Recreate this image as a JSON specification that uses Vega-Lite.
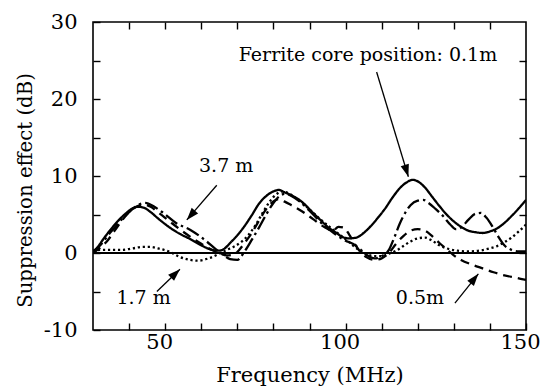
{
  "$schema": "https://vega.github.io/schema/vega-lite/v6.json",
  "width": 433,
  "height": 308,
  "autosize": {"type": "none"},
  "padding": {"left": 93, "top": 22, "right": 14, "bottom": 60},
  "background": "white",
  "config": {
    "view": {"stroke": "black", "strokeWidth": 1.6},
    "font": "DejaVu Serif",
    "text": {"font": "DejaVu Serif"},
    "axis": {
      "grid": false,
      "domain": false,
      "tickColor": "black",
      "tickWidth": 1.4,
      "tickSize": -7,
      "labelFont": "DejaVu Serif",
      "labelFontSize": 21,
      "labelColor": "black",
      "titleFont": "DejaVu Serif",
      "titleFontSize": 21,
      "titleFontWeight": "normal",
      "titleColor": "black"
    }
  },
  "datasets": {
    "curves": [
      {"series": "0.1m", "f": 30, "db": 0.2}, {"series": "0.1m", "f": 31, "db": 0.6}, {"series": "0.1m", "f": 33, "db": 1.9}, {"series": "0.1m", "f": 35, "db": 3.1}, {"series": "0.1m", "f": 37, "db": 4.2}, {"series": "0.1m", "f": 39, "db": 5.1}, {"series": "0.1m", "f": 41, "db": 5.8}, {"series": "0.1m", "f": 42.5, "db": 6.0}, {"series": "0.1m", "f": 44, "db": 5.9}, {"series": "0.1m", "f": 46, "db": 5.3}, {"series": "0.1m", "f": 48, "db": 4.5}, {"series": "0.1m", "f": 51, "db": 3.4}, {"series": "0.1m", "f": 54, "db": 2.5}, {"series": "0.1m", "f": 57, "db": 1.8}, {"series": "0.1m", "f": 60, "db": 1.0}, {"series": "0.1m", "f": 63, "db": 0.4}, {"series": "0.1m", "f": 65, "db": 0.3}, {"series": "0.1m", "f": 66.5, "db": 0.6}, {"series": "0.1m", "f": 68, "db": 1.3}, {"series": "0.1m", "f": 70, "db": 2.3}, {"series": "0.1m", "f": 72, "db": 3.5}, {"series": "0.1m", "f": 74, "db": 4.9}, {"series": "0.1m", "f": 76, "db": 6.4}, {"series": "0.1m", "f": 78, "db": 7.4}, {"series": "0.1m", "f": 80, "db": 8.0}, {"series": "0.1m", "f": 81.5, "db": 8.2}, {"series": "0.1m", "f": 83, "db": 7.9}, {"series": "0.1m", "f": 85, "db": 7.5}, {"series": "0.1m", "f": 88, "db": 6.6}, {"series": "0.1m", "f": 91, "db": 5.2}, {"series": "0.1m", "f": 93, "db": 4.3}, {"series": "0.1m", "f": 95, "db": 3.4}, {"series": "0.1m", "f": 97.5, "db": 2.6}, {"series": "0.1m", "f": 99, "db": 2.1}, {"series": "0.1m", "f": 101, "db": 1.9}, {"series": "0.1m", "f": 103, "db": 2.0}, {"series": "0.1m", "f": 105, "db": 2.6}, {"series": "0.1m", "f": 107, "db": 3.5}, {"series": "0.1m", "f": 109, "db": 4.6}, {"series": "0.1m", "f": 111, "db": 5.8}, {"series": "0.1m", "f": 113, "db": 7.2}, {"series": "0.1m", "f": 115, "db": 8.4}, {"series": "0.1m", "f": 117, "db": 9.2}, {"series": "0.1m", "f": 118.5, "db": 9.5}, {"series": "0.1m", "f": 120, "db": 9.3}, {"series": "0.1m", "f": 122, "db": 8.5}, {"series": "0.1m", "f": 124, "db": 7.3}, {"series": "0.1m", "f": 126, "db": 6.1}, {"series": "0.1m", "f": 128, "db": 5.0}, {"series": "0.1m", "f": 130, "db": 4.1}, {"series": "0.1m", "f": 132, "db": 3.4}, {"series": "0.1m", "f": 134, "db": 2.9}, {"series": "0.1m", "f": 136, "db": 2.7}, {"series": "0.1m", "f": 138, "db": 2.6}, {"series": "0.1m", "f": 140, "db": 2.8}, {"series": "0.1m", "f": 142, "db": 3.2}, {"series": "0.1m", "f": 144, "db": 3.9}, {"series": "0.1m", "f": 146, "db": 4.8}, {"series": "0.1m", "f": 148, "db": 5.8}, {"series": "0.1m", "f": 150, "db": 6.9},

      {"series": "0.5m", "f": 30, "db": 0.0}, {"series": "0.5m", "f": 32, "db": 0.7}, {"series": "0.5m", "f": 34, "db": 1.6}, {"series": "0.5m", "f": 36, "db": 2.9}, {"series": "0.5m", "f": 38, "db": 4.2}, {"series": "0.5m", "f": 40, "db": 5.3}, {"series": "0.5m", "f": 42, "db": 6.0}, {"series": "0.5m", "f": 44, "db": 6.3}, {"series": "0.5m", "f": 46, "db": 6.0}, {"series": "0.5m", "f": 48, "db": 5.3}, {"series": "0.5m", "f": 51, "db": 4.2}, {"series": "0.5m", "f": 54, "db": 3.1}, {"series": "0.5m", "f": 57, "db": 2.1}, {"series": "0.5m", "f": 60, "db": 1.2}, {"series": "0.5m", "f": 63, "db": 0.4}, {"series": "0.5m", "f": 65, "db": 0.0}, {"series": "0.5m", "f": 67, "db": -0.3}, {"series": "0.5m", "f": 69, "db": -0.2}, {"series": "0.5m", "f": 70.5, "db": 0.4}, {"series": "0.5m", "f": 72, "db": 1.3}, {"series": "0.5m", "f": 74, "db": 2.6}, {"series": "0.5m", "f": 76, "db": 4.2}, {"series": "0.5m", "f": 78, "db": 5.7}, {"series": "0.5m", "f": 80, "db": 6.7}, {"series": "0.5m", "f": 81.5, "db": 7.0}, {"series": "0.5m", "f": 83, "db": 6.7}, {"series": "0.5m", "f": 85, "db": 6.2}, {"series": "0.5m", "f": 88, "db": 5.4}, {"series": "0.5m", "f": 91, "db": 4.4}, {"series": "0.5m", "f": 94, "db": 3.4}, {"series": "0.5m", "f": 96.5, "db": 2.9}, {"series": "0.5m", "f": 98, "db": 3.4}, {"series": "0.5m", "f": 99.5, "db": 3.3}, {"series": "0.5m", "f": 101, "db": 2.4}, {"series": "0.5m", "f": 102.5, "db": 1.2}, {"series": "0.5m", "f": 104, "db": 0.2}, {"series": "0.5m", "f": 106, "db": -0.6}, {"series": "0.5m", "f": 108, "db": -0.9}, {"series": "0.5m", "f": 110, "db": -0.7}, {"series": "0.5m", "f": 112, "db": 0.0}, {"series": "0.5m", "f": 114, "db": 1.2}, {"series": "0.5m", "f": 116, "db": 2.2}, {"series": "0.5m", "f": 118, "db": 2.9}, {"series": "0.5m", "f": 120, "db": 3.1}, {"series": "0.5m", "f": 122, "db": 2.9}, {"series": "0.5m", "f": 124, "db": 2.2}, {"series": "0.5m", "f": 126, "db": 1.3}, {"series": "0.5m", "f": 128, "db": 0.5}, {"series": "0.5m", "f": 130, "db": -0.3}, {"series": "0.5m", "f": 132, "db": -0.9}, {"series": "0.5m", "f": 135, "db": -1.5}, {"series": "0.5m", "f": 138, "db": -2.0}, {"series": "0.5m", "f": 141, "db": -2.5}, {"series": "0.5m", "f": 144, "db": -2.9}, {"series": "0.5m", "f": 147, "db": -3.2}, {"series": "0.5m", "f": 150, "db": -3.5},

      {"series": "1.7m", "f": 30, "db": 0.3}, {"series": "1.7m", "f": 32, "db": 0.4}, {"series": "1.7m", "f": 35, "db": 0.4}, {"series": "1.7m", "f": 38, "db": 0.4}, {"series": "1.7m", "f": 41, "db": 0.6}, {"series": "1.7m", "f": 44, "db": 0.8}, {"series": "1.7m", "f": 46, "db": 0.8}, {"series": "1.7m", "f": 48, "db": 0.6}, {"series": "1.7m", "f": 51, "db": 0.2}, {"series": "1.7m", "f": 54, "db": -0.5}, {"series": "1.7m", "f": 57, "db": -0.9}, {"series": "1.7m", "f": 59, "db": -1.0}, {"series": "1.7m", "f": 62, "db": -0.7}, {"series": "1.7m", "f": 65, "db": -0.1}, {"series": "1.7m", "f": 67, "db": 0.4}, {"series": "1.7m", "f": 69, "db": 0.8}, {"series": "1.7m", "f": 71, "db": 1.4}, {"series": "1.7m", "f": 73, "db": 2.3}, {"series": "1.7m", "f": 75, "db": 3.6}, {"series": "1.7m", "f": 77, "db": 5.2}, {"series": "1.7m", "f": 79, "db": 6.7}, {"series": "1.7m", "f": 81, "db": 7.7}, {"series": "1.7m", "f": 82.5, "db": 8.0}, {"series": "1.7m", "f": 84, "db": 7.8}, {"series": "1.7m", "f": 86, "db": 7.2}, {"series": "1.7m", "f": 89, "db": 6.1}, {"series": "1.7m", "f": 92, "db": 4.8}, {"series": "1.7m", "f": 95, "db": 3.6}, {"series": "1.7m", "f": 98, "db": 2.5}, {"series": "1.7m", "f": 100, "db": 1.8}, {"series": "1.7m", "f": 102, "db": 1.0}, {"series": "1.7m", "f": 104, "db": 0.3}, {"series": "1.7m", "f": 106, "db": -0.2}, {"series": "1.7m", "f": 108, "db": -0.4}, {"series": "1.7m", "f": 110, "db": -0.4}, {"series": "1.7m", "f": 112, "db": -0.1}, {"series": "1.7m", "f": 114, "db": 0.3}, {"series": "1.7m", "f": 116, "db": 0.9}, {"series": "1.7m", "f": 118, "db": 1.5}, {"series": "1.7m", "f": 120, "db": 1.9}, {"series": "1.7m", "f": 122, "db": 2.0}, {"series": "1.7m", "f": 124, "db": 1.6}, {"series": "1.7m", "f": 126, "db": 1.0}, {"series": "1.7m", "f": 128, "db": 0.6}, {"series": "1.7m", "f": 131, "db": 0.3}, {"series": "1.7m", "f": 134, "db": 0.2}, {"series": "1.7m", "f": 137, "db": 0.3}, {"series": "1.7m", "f": 140, "db": 0.6}, {"series": "1.7m", "f": 142, "db": 0.9}, {"series": "1.7m", "f": 144, "db": 1.4}, {"series": "1.7m", "f": 146, "db": 2.0}, {"series": "1.7m", "f": 148, "db": 2.8}, {"series": "1.7m", "f": 150, "db": 3.7},

      {"series": "3.7m", "f": 30, "db": 0.0}, {"series": "3.7m", "f": 32, "db": 1.0}, {"series": "3.7m", "f": 34, "db": 2.2}, {"series": "3.7m", "f": 36, "db": 3.3}, {"series": "3.7m", "f": 38, "db": 4.4}, {"series": "3.7m", "f": 40, "db": 5.3}, {"series": "3.7m", "f": 42, "db": 6.1}, {"series": "3.7m", "f": 44.5, "db": 6.5}, {"series": "3.7m", "f": 47, "db": 6.0}, {"series": "3.7m", "f": 49.5, "db": 5.2}, {"series": "3.7m", "f": 53, "db": 3.9}, {"series": "3.7m", "f": 57, "db": 3.0}, {"series": "3.7m", "f": 61.5, "db": 1.5}, {"series": "3.7m", "f": 64, "db": 0.5}, {"series": "3.7m", "f": 66, "db": -0.2}, {"series": "3.7m", "f": 68, "db": -0.8}, {"series": "3.7m", "f": 70, "db": -0.9}, {"series": "3.7m", "f": 72, "db": 0.2}, {"series": "3.7m", "f": 74, "db": 1.7}, {"series": "3.7m", "f": 76, "db": 3.3}, {"series": "3.7m", "f": 78, "db": 5.0}, {"series": "3.7m", "f": 80, "db": 6.5}, {"series": "3.7m", "f": 82, "db": 7.5}, {"series": "3.7m", "f": 83.5, "db": 7.7}, {"series": "3.7m", "f": 85, "db": 7.4}, {"series": "3.7m", "f": 88, "db": 6.4}, {"series": "3.7m", "f": 91, "db": 5.0}, {"series": "3.7m", "f": 94, "db": 3.6}, {"series": "3.7m", "f": 97, "db": 2.5}, {"series": "3.7m", "f": 100, "db": 1.6}, {"series": "3.7m", "f": 102, "db": 1.2}, {"series": "3.7m", "f": 104, "db": 0.5}, {"series": "3.7m", "f": 106, "db": -0.3}, {"series": "3.7m", "f": 108, "db": -0.7}, {"series": "3.7m", "f": 110, "db": -0.4}, {"series": "3.7m", "f": 112, "db": 0.4}, {"series": "3.7m", "f": 113.5, "db": 2.0}, {"series": "3.7m", "f": 115, "db": 3.8}, {"series": "3.7m", "f": 116.5, "db": 5.2}, {"series": "3.7m", "f": 118, "db": 6.2}, {"series": "3.7m", "f": 120, "db": 6.8}, {"series": "3.7m", "f": 121.5, "db": 6.9}, {"series": "3.7m", "f": 123, "db": 6.5}, {"series": "3.7m", "f": 125, "db": 5.7}, {"series": "3.7m", "f": 127, "db": 4.8}, {"series": "3.7m", "f": 129, "db": 3.7}, {"series": "3.7m", "f": 130.5, "db": 3.1}, {"series": "3.7m", "f": 132, "db": 3.3}, {"series": "3.7m", "f": 134, "db": 4.3}, {"series": "3.7m", "f": 136, "db": 5.1}, {"series": "3.7m", "f": 137.5, "db": 5.2}, {"series": "3.7m", "f": 139, "db": 4.6}, {"series": "3.7m", "f": 141, "db": 3.2}, {"series": "3.7m", "f": 142.5, "db": 2.0}, {"series": "3.7m", "f": 144, "db": 1.0}, {"series": "3.7m", "f": 146, "db": 0.4}, {"series": "3.7m", "f": 148, "db": 0.2}, {"series": "3.7m", "f": 150, "db": 0.2}
    ],
    "arrows": [
      {"x1": 108.6, "y1": 23.5, "x2": 117.4, "y2": 9.9, "angle": 163},
      {"x1": 64.3, "y1": 8.8, "x2": 56.0, "y2": 4.3, "angle": 221},
      {"x1": 47.7, "y1": -5.0, "x2": 54.1, "y2": -2.1, "angle": 46},
      {"x1": 130.3, "y1": -6.5, "x2": 136.8, "y2": -2.7, "angle": 39}
    ],
    "labels": [
      {"text": "Ferrite core position: 0.1m", "f": 106.2, "db": 25.7},
      {"text": "3.7 m", "f": 66.9, "db": 11.3},
      {"text": "1.7 m", "f": 44.0, "db": -5.9},
      {"text": "0.5m", "f": 120.6, "db": -5.9}
    ]
  },
  "layer": [
    {
      "data": {"name": "curves"},
      "mark": {"type": "line", "color": "black", "strokeWidth": 2.3, "interpolate": "monotone", "clip": true},
      "encoding": {
        "x": {
          "field": "f", "type": "quantitative",
          "scale": {"domain": [30, 150], "nice": false, "zero": false},
          "axis": {
            "orient": "bottom",
            "values": [40, 50, 60, 70, 80, 90, 100, 110, 120, 130, 140, 150],
            "labelExpr": "datum.value % 50 === 0 ? '' + datum.value : ''",
            "labelPadding": 8,
            "labelOffset": -6,
            "labelFlush": false,
            "title": "Frequency (MHz)",
            "titleY": 51,
            "titleBaseline": "alphabetic"
          }
        },
        "y": {
          "field": "db", "type": "quantitative",
          "scale": {"domain": [-10, 30], "nice": false, "zero": false},
          "axis": {
            "orient": "left",
            "values": [-10, -5, 0, 5, 10, 15, 20, 25, 30],
            "labelExpr": "datum.value % 10 === 0 ? '' + datum.value : ''",
            "labelPadding": 23,
            "labelFlush": false,
            "title": "Suppression effect (dB)",
            "titleFontSize": 19.7,
            "titleAngle": -90,
            "titleX": -68,
            "titleY": 168,
            "titleBaseline": "middle",
            "titleAlign": "center"
          }
        },
        "detail": {"field": "series"},
        "strokeDash": {
          "field": "series", "type": "nominal",
          "scale": {"domain": ["0.1m", "0.5m", "1.7m", "3.7m"], "range": [[1, 0], [9, 6], [2.2, 2.8], [14, 4, 2.5, 4]]},
          "legend": null
        }
      }
    },
    {
      "data": {"values": [{"y": 0}]},
      "mark": {"type": "rule", "color": "black", "strokeWidth": 2},
      "encoding": {"y": {"field": "y", "type": "quantitative", "axis": null}}
    },
    {
      "data": {"name": "arrows"},
      "mark": {"type": "rule", "color": "black", "strokeWidth": 1.3},
      "encoding": {
        "x": {"field": "x1", "type": "quantitative", "axis": {"orient": "top", "values": [40, 50, 60, 70, 80, 90, 100, 110, 120, 130, 140], "labels": false, "title": null}},
        "y": {"field": "y1", "type": "quantitative", "axis": {"orient": "right", "values": [-5, 0, 5, 10, 15, 20, 25], "labels": false, "title": null}},
        "x2": {"field": "x2"},
        "y2": {"field": "y2"}
      }
    },
    {
      "data": {"name": "arrows"},
      "mark": {"type": "point", "filled": true, "color": "black", "opacity": 1, "shape": "M0,0L-0.45,1.3L0.45,1.3Z", "size": 360},
      "encoding": {
        "x": {"field": "x2", "type": "quantitative", "axis": null},
        "y": {"field": "y2", "type": "quantitative", "axis": null},
        "angle": {"field": "angle", "type": "quantitative", "scale": null}
      }
    },
    {
      "data": {"name": "labels"},
      "mark": {"type": "text", "font": "DejaVu Serif", "fontSize": 19, "color": "black", "align": "center", "baseline": "middle"},
      "encoding": {
        "x": {"field": "f", "type": "quantitative", "axis": null},
        "y": {"field": "db", "type": "quantitative", "axis": null},
        "text": {"field": "text"}
      }
    }
  ],
  "resolve": {"axis": {"x": "independent", "y": "independent"}}
}
